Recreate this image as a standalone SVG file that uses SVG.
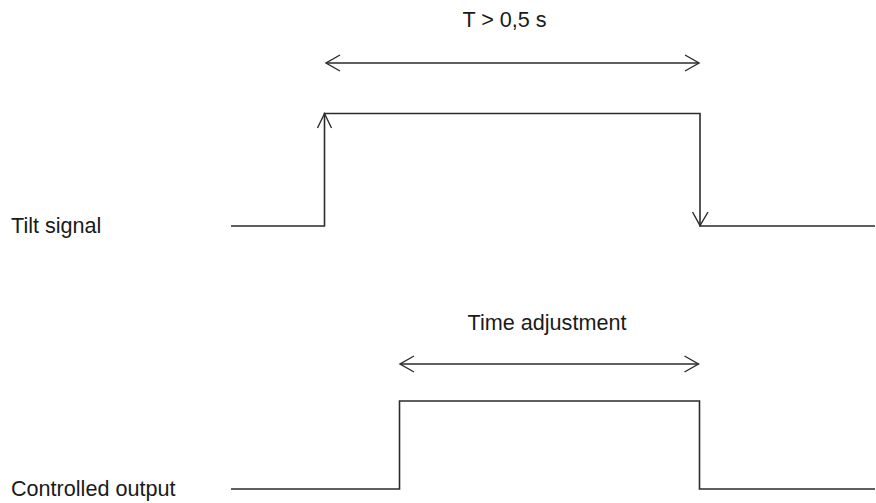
<svg xmlns="http://www.w3.org/2000/svg" width="876" height="503" viewBox="0 0 876 503">
<style>
.ln{fill:none;stroke:#2b2b2b;stroke-width:1.6;stroke-linejoin:miter}
.hd{fill:none;stroke:#2b2b2b;stroke-width:1.4;stroke-linejoin:miter}
.tx{font-family:"Liberation Sans",Arial,sans-serif;font-size:21.6px;fill:#1a1a1a}
</style>
<defs>
<marker id="chev" markerUnits="userSpaceOnUse" markerWidth="20" markerHeight="20" viewBox="-16 -10 20 20" refX="0" refY="0" orient="auto-start-reverse" overflow="visible">
<path class="hd" d="M-14,-8 L0,0 L-14,8"/>
</marker>
</defs>
<rect width="876" height="503" fill="#ffffff"/>
<g id="labels">
<text id="label-tilt" class="tx" x="11" y="233">Tilt signal</text>
<text id="label-output" class="tx" x="11" y="496">Controlled output</text>
</g>
<g id="tilt-signal">
<polyline class="ln" points="231,226 324.5,226 324.5,113.5 700,113.5 700,226 875,226"/>
<path class="hd" d="M317.5,128 L324.5,113.5 L331.5,128"/>
<path class="hd" d="M692.5,212 L700,225.5 L708,212"/>
</g>
<g id="controlled-output">
<polyline class="ln" points="231,489 399.5,489 399.5,401 699.5,401 699.5,489 875,489"/>
</g>
<g id="connectors">
<g id="dim-T">
<line class="ln" x1="326" y1="63" x2="699" y2="63" marker-start="url(#chev)" marker-end="url(#chev)"/>
<text class="tx" x="504.5" y="27" text-anchor="middle">T &gt; 0,5 s</text>
</g>
<g id="dim-time">
<line class="ln" x1="400" y1="364" x2="698.5" y2="364" marker-start="url(#chev)" marker-end="url(#chev)"/>
<text class="tx" x="547" y="330" text-anchor="middle">Time adjustment</text>
</g>
</g>
</svg>
